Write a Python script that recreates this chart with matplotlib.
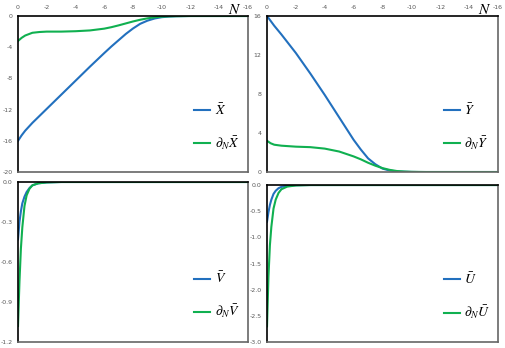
import numpy as np
import matplotlib
matplotlib.use("Agg")
import matplotlib.pyplot as plt
from matplotlib.transforms import blended_transform_factory

plt.rcParams['mathtext.fontset'] = 'stix'

# ---- data (N runs from 0 down to -16) ----
N_top = [0, -0.25, -0.5, -1, -1.5, -2, -3, -4, -5, -6, -6.5, -7, -7.5, -8, -8.5,
         -9, -9.5, -10, -10.5, -11, -12, -16]
X_bar = [-16, -15.3, -14.7, -13.7, -12.8, -11.9, -10.1, -8.3, -6.5, -4.75, -3.9,
         -3.1, -2.3, -1.6, -1.0, -0.6, -0.32, -0.15, -0.07, -0.03, 0, 0]
dX_bar = [-3.2, -2.8, -2.5, -2.15, -2.05, -2.0, -2.0, -1.95, -1.85, -1.62, -1.43,
          -1.2, -0.95, -0.7, -0.48, -0.3, -0.17, -0.08, -0.04, -0.02, 0, 0]

Y_bar = [16, 15.5, 15.0, 14.1, 13.15, 12.2, 10.1, 7.9, 5.6, 3.3, 2.3,
         1.4, 0.8, 0.35, 0.15, 0.06, 0.03, 0.01, 0, 0, 0, 0]
dY_bar = [3.2, 2.95, 2.8, 2.7, 2.65, 2.6, 2.55, 2.4, 2.1, 1.6, 1.3,
          0.95, 0.65, 0.4, 0.22, 0.1, 0.05, 0.02, 0.01, 0, 0, 0]

N_bot = [0, -0.1, -0.2, -0.3, -0.45, -0.6, -0.8, -1.0, -1.4, -2.0, -3.0, -16]
V_bar = [-0.43, -0.3, -0.22, -0.16, -0.11, -0.075, -0.045, -0.025, -0.01, -0.003, 0, 0]
dV_bar = [-1.08, -0.75, -0.5, -0.34, -0.18, -0.1, -0.05, -0.025, -0.01, -0.003, 0, 0]
U_bar = [-0.7, -0.52, -0.38, -0.28, -0.17, -0.11, -0.06, -0.035, -0.012, -0.004, 0, 0]
dU_bar = [-2.7, -1.75, -1.15, -0.8, -0.45, -0.28, -0.15, -0.08, -0.03, -0.008, 0, 0]

x_ticks = [0, -2, -4, -6, -8, -10, -12, -14, -16]

BLUE = '#2270BE'
GREEN = '#10B050'
TICK_COL = '#595959'

fig = plt.figure(figsize=(5.06, 3.48), dpi=100)


def make_ax(rect, ylim, yticks, yfmt, show_x):
    ax = fig.add_axes(rect)
    ax.set_xlim(0, -16)
    ax.set_ylim(*ylim)
    ax.set_yticks(yticks)
    ax.set_yticklabels([yfmt.format(v) for v in yticks])
    ax.xaxis.tick_top()
    if show_x:
        ax.set_xticks(x_ticks)
        ax.set_xticklabels([str(v) for v in x_ticks])
        tr = blended_transform_factory(ax.transData, fig.transFigure)
        ax.text(-15.1, 0.972, r'$N$', transform=tr, fontsize=11, ha='center', va='center')
    else:
        ax.set_xticks([])
    ax.tick_params(labelsize=4.5, labelcolor=TICK_COL, length=0, pad=4)
    for s in ['top', 'left']:
        ax.spines[s].set_color('black')
        ax.spines[s].set_linewidth(1.2)
    for s in ['bottom', 'right']:
        ax.spines[s].set_color('#666666')
        ax.spines[s].set_linewidth(1.2)
    return ax


def add_legend(ax):
    ax.legend(frameon=False, loc='center left', bbox_to_anchor=(0.74, 0.29), fontsize=10,
              handlelength=1.2, handletextpad=0.3, labelspacing=1.2, borderaxespad=0)


ax1 = make_ax([0.0356, 0.5057, 0.4545, 0.4483], (-20, 0), [-20, -16, -12, -8, -4, 0], '{:d}', True)
ax1.plot(N_top, X_bar, color=BLUE, lw=1.5, label=r'$\bar{X}$')
ax1.plot(N_top, dX_bar, color=GREEN, lw=1.5, label=r'$\partial_N\bar{X}$')
add_legend(ax1)

ax2 = make_ax([0.5277, 0.5057, 0.4565, 0.4483], (0, 16), [0, 4, 8, 12, 16], '{:d}', True)
ax2.plot(N_top, Y_bar, color=BLUE, lw=1.5, label=r'$\bar{Y}$')
ax2.plot(N_top, dY_bar, color=GREEN, lw=1.5, label=r'$\partial_N\bar{Y}$')
add_legend(ax2)

ax3 = make_ax([0.0356, 0.0172, 0.4545, 0.4598], (-1.2, 0), [-1.2, -0.9, -0.6, -0.3, 0.0], '{:.1f}', False)
ax3.plot(N_bot, V_bar, color=BLUE, lw=1.5, label=r'$\bar{V}$')
ax3.plot(N_bot, dV_bar, color=GREEN, lw=1.5, label=r'$\partial_N\bar{V}$')
add_legend(ax3)

ax4 = make_ax([0.5277, 0.0172, 0.4565, 0.4511], (-3.0, 0), [-3.0, -2.5, -2.0, -1.5, -1.0, -0.5, 0.0], '{:.1f}', False)
ax4.plot(N_bot, U_bar, color=BLUE, lw=1.5, label=r'$\bar{U}$')
ax4.plot(N_bot, dU_bar, color=GREEN, lw=1.5, label=r'$\partial_N\bar{U}$')
add_legend(ax4)

fig.savefig('out.png', dpi=100)
